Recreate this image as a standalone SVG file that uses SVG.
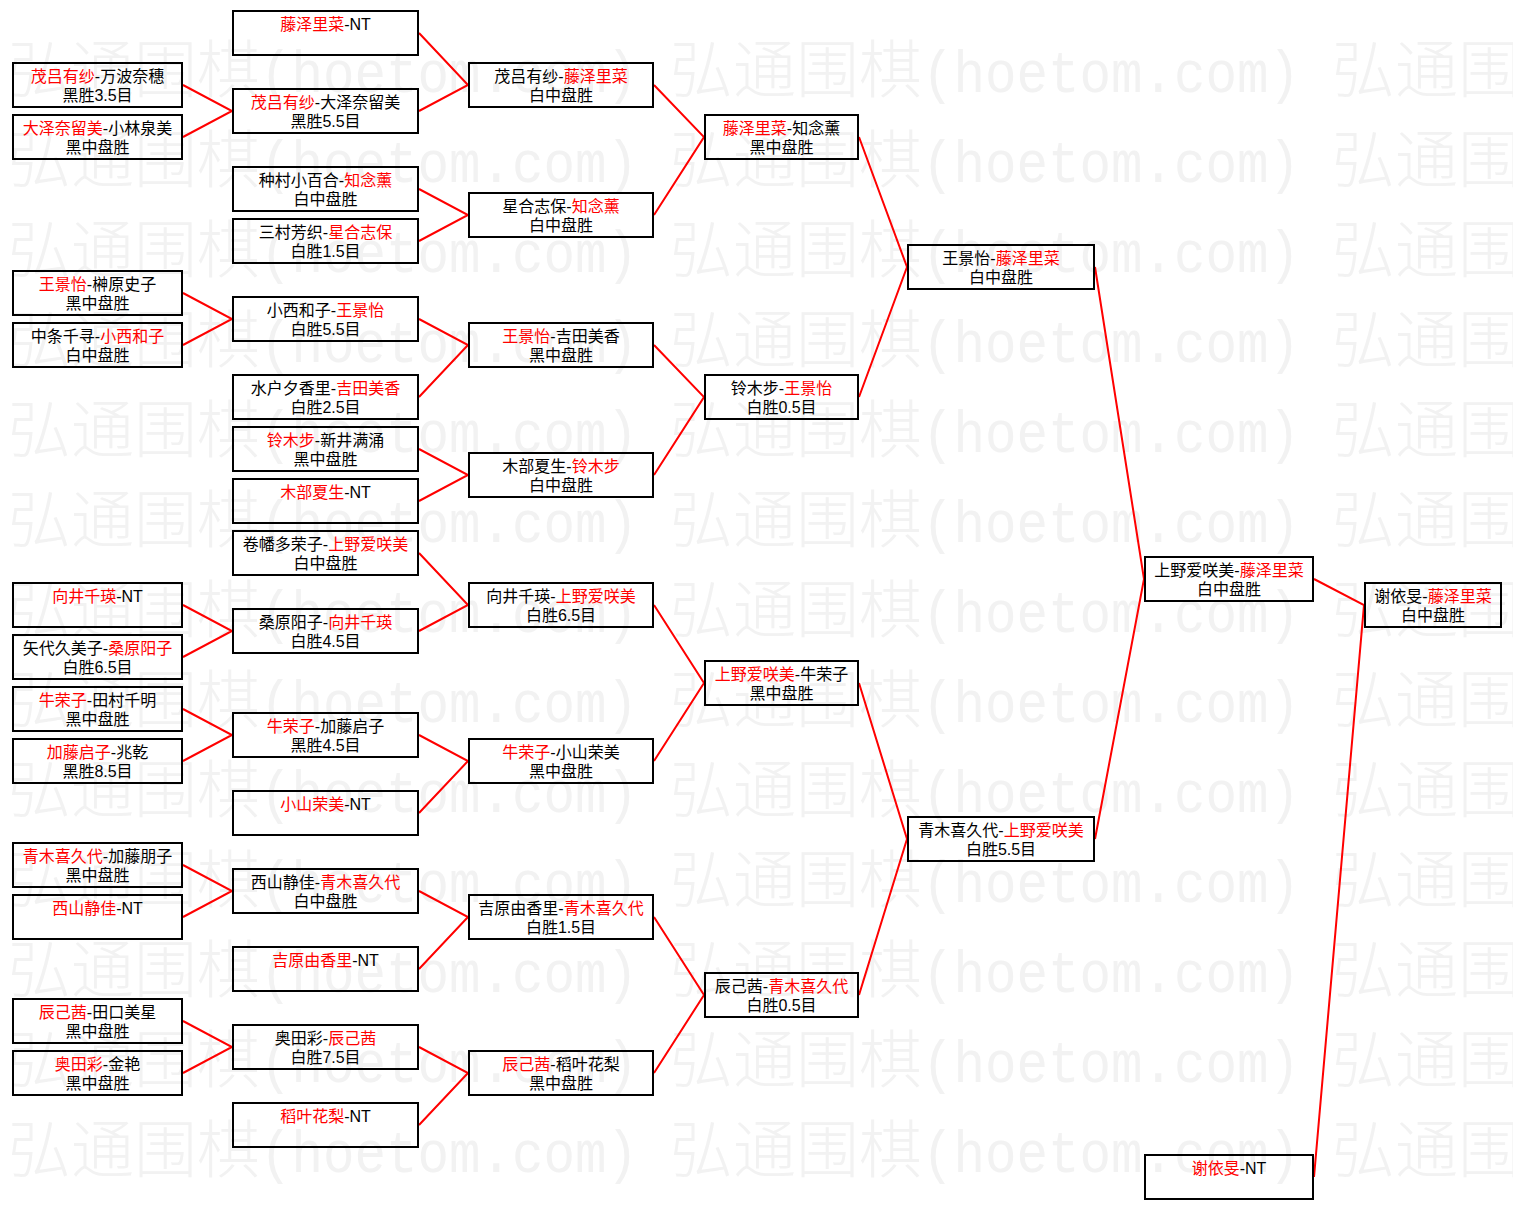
<svg xmlns="http://www.w3.org/2000/svg" width="1513" height="1209" viewBox="0 0 1513 1209">
<style>
.b{fill:none;stroke:#000;stroke-width:2}
.t{font-family:"Liberation Sans","Noto Sans CJK SC",sans-serif;font-size:16px;fill:#000;text-anchor:middle}
.r{fill:#f00}
.ln{fill:none;stroke:#f00;stroke-width:2}
.wc{font-family:"Noto Sans CJK SC",sans-serif;font-size:63px;font-weight:300;fill:#f2f2f2}
.wa{font-family:"Liberation Mono",monospace;font-size:60px;fill:#f2f2f2}
</style>
<defs>
<g id="wm">
<text class="wc" x="0" y="0">弘通围棋</text>
<text class="wa" x="252" y="0" textLength="378" lengthAdjust="spacingAndGlyphs">(hoetom.com)</text>
</g>
</defs>
<rect width="1513" height="1209" fill="#fff"/>
<g id="watermark">
<use href="#wm" x="8" y="92"/><use href="#wm" x="670" y="92"/><use href="#wm" x="1332" y="92"/>
<use href="#wm" x="8" y="182"/><use href="#wm" x="670" y="182"/><use href="#wm" x="1332" y="182"/>
<use href="#wm" x="8" y="272"/><use href="#wm" x="670" y="272"/><use href="#wm" x="1332" y="272"/>
<use href="#wm" x="8" y="362"/><use href="#wm" x="670" y="362"/><use href="#wm" x="1332" y="362"/>
<use href="#wm" x="8" y="452"/><use href="#wm" x="670" y="452"/><use href="#wm" x="1332" y="452"/>
<use href="#wm" x="8" y="542"/><use href="#wm" x="670" y="542"/><use href="#wm" x="1332" y="542"/>
<use href="#wm" x="8" y="632"/><use href="#wm" x="670" y="632"/><use href="#wm" x="1332" y="632"/>
<use href="#wm" x="8" y="722"/><use href="#wm" x="670" y="722"/><use href="#wm" x="1332" y="722"/>
<use href="#wm" x="8" y="812"/><use href="#wm" x="670" y="812"/><use href="#wm" x="1332" y="812"/>
<use href="#wm" x="8" y="902"/><use href="#wm" x="670" y="902"/><use href="#wm" x="1332" y="902"/>
<use href="#wm" x="8" y="992"/><use href="#wm" x="670" y="992"/><use href="#wm" x="1332" y="992"/>
<use href="#wm" x="8" y="1082"/><use href="#wm" x="670" y="1082"/><use href="#wm" x="1332" y="1082"/>
<use href="#wm" x="8" y="1172"/><use href="#wm" x="670" y="1172"/><use href="#wm" x="1332" y="1172"/>
</g>
<g id="connectors">
<path class="ln" d="M183,85 L232,111 L183,137"/>
<path class="ln" d="M183,293 L232,319 L183,345"/>
<path class="ln" d="M183,605 L232,631 L183,657"/>
<path class="ln" d="M183,709 L232,735 L183,761"/>
<path class="ln" d="M183,865 L232,891 L183,917"/>
<path class="ln" d="M183,1021 L232,1047 L183,1073"/>
<path class="ln" d="M419,33 L468,85 L419,111"/>
<path class="ln" d="M419,189 L468,215 L419,241"/>
<path class="ln" d="M419,319 L468,345 L419,397"/>
<path class="ln" d="M419,449 L468,475 L419,501"/>
<path class="ln" d="M419,553 L468,605 L419,631"/>
<path class="ln" d="M419,735 L468,761 L419,813"/>
<path class="ln" d="M419,891 L468,917 L419,969"/>
<path class="ln" d="M419,1047 L468,1073 L419,1125"/>
<path class="ln" d="M654,85 L704,137 L654,215"/>
<path class="ln" d="M654,345 L704,397 L654,475"/>
<path class="ln" d="M654,605 L704,683 L654,761"/>
<path class="ln" d="M654,917 L704,995 L654,1073"/>
<path class="ln" d="M859,137 L907,267 L859,397"/>
<path class="ln" d="M859,683 L907,839 L859,995"/>
<path class="ln" d="M1095,267 L1144,579 L1095,839"/>
<path class="ln" d="M1314,579 L1364,605 L1314,1177"/>
</g>
<!-- column 1 -->
<g id="r1-1"><rect class="b" x="13" y="63" width="169" height="44"/><text class="t"><tspan x="97.5" y="82"><tspan class="r">茂吕有纱</tspan>-万波奈穗</tspan><tspan x="97.5" y="101">黑胜3.5目</tspan></text></g>
<g id="r1-2"><rect class="b" x="13" y="115" width="169" height="44"/><text class="t"><tspan x="97.5" y="134"><tspan class="r">大泽奈留美</tspan>-小林泉美</tspan><tspan x="97.5" y="153">黑中盘胜</tspan></text></g>
<g id="r1-3"><rect class="b" x="13" y="271" width="169" height="44"/><text class="t"><tspan x="97.5" y="290"><tspan class="r">王景怡</tspan>-榊原史子</tspan><tspan x="97.5" y="309">黑中盘胜</tspan></text></g>
<g id="r1-4"><rect class="b" x="13" y="323" width="169" height="44"/><text class="t"><tspan x="97.5" y="342">中条千寻-<tspan class="r">小西和子</tspan></tspan><tspan x="97.5" y="361">白中盘胜</tspan></text></g>
<g id="r1-5"><rect class="b" x="13" y="583" width="169" height="44"/><text class="t" x="97.5" y="602"><tspan class="r">向井千瑛</tspan>-NT</text></g>
<g id="r1-6"><rect class="b" x="13" y="635" width="169" height="44"/><text class="t"><tspan x="97.5" y="654">矢代久美子-<tspan class="r">桑原阳子</tspan></tspan><tspan x="97.5" y="673">白胜6.5目</tspan></text></g>
<g id="r1-7"><rect class="b" x="13" y="687" width="169" height="44"/><text class="t"><tspan x="97.5" y="706"><tspan class="r">牛荣子</tspan>-田村千明</tspan><tspan x="97.5" y="725">黑中盘胜</tspan></text></g>
<g id="r1-8"><rect class="b" x="13" y="739" width="169" height="44"/><text class="t"><tspan x="97.5" y="758"><tspan class="r">加藤启子</tspan>-兆乾</tspan><tspan x="97.5" y="777">黑胜8.5目</tspan></text></g>
<g id="r1-9"><rect class="b" x="13" y="843" width="169" height="44"/><text class="t"><tspan x="97.5" y="862"><tspan class="r">青木喜久代</tspan>-加藤朋子</tspan><tspan x="97.5" y="881">黑中盘胜</tspan></text></g>
<g id="r1-10"><rect class="b" x="13" y="895" width="169" height="44"/><text class="t" x="97.5" y="914"><tspan class="r">西山静佳</tspan>-NT</text></g>
<g id="r1-11"><rect class="b" x="13" y="999" width="169" height="44"/><text class="t"><tspan x="97.5" y="1018"><tspan class="r">辰己茜</tspan>-田口美星</tspan><tspan x="97.5" y="1037">黑中盘胜</tspan></text></g>
<g id="r1-12"><rect class="b" x="13" y="1051" width="169" height="44"/><text class="t"><tspan x="97.5" y="1070"><tspan class="r">奥田彩</tspan>-金艳</tspan><tspan x="97.5" y="1089">黑中盘胜</tspan></text></g>
<!-- column 2 -->
<g id="r2-1"><rect class="b" x="233" y="11" width="185" height="44"/><text class="t" x="325.5" y="30"><tspan class="r">藤泽里菜</tspan>-NT</text></g>
<g id="r2-2"><rect class="b" x="233" y="89" width="185" height="44"/><text class="t"><tspan x="325.5" y="108"><tspan class="r">茂吕有纱</tspan>-大泽奈留美</tspan><tspan x="325.5" y="127">黑胜5.5目</tspan></text></g>
<g id="r2-3"><rect class="b" x="233" y="167" width="185" height="44"/><text class="t"><tspan x="325.5" y="186">种村小百合-<tspan class="r">知念薰</tspan></tspan><tspan x="325.5" y="205">白中盘胜</tspan></text></g>
<g id="r2-4"><rect class="b" x="233" y="219" width="185" height="44"/><text class="t"><tspan x="325.5" y="238">三村芳织-<tspan class="r">星合志保</tspan></tspan><tspan x="325.5" y="257">白胜1.5目</tspan></text></g>
<g id="r2-5"><rect class="b" x="233" y="297" width="185" height="44"/><text class="t"><tspan x="325.5" y="316">小西和子-<tspan class="r">王景怡</tspan></tspan><tspan x="325.5" y="335">白胜5.5目</tspan></text></g>
<g id="r2-6"><rect class="b" x="233" y="375" width="185" height="44"/><text class="t"><tspan x="325.5" y="394">水户夕香里-<tspan class="r">吉田美香</tspan></tspan><tspan x="325.5" y="413">白胜2.5目</tspan></text></g>
<g id="r2-7"><rect class="b" x="233" y="427" width="185" height="44"/><text class="t"><tspan x="325.5" y="446"><tspan class="r">铃木步</tspan>-新井满涌</tspan><tspan x="325.5" y="465">黑中盘胜</tspan></text></g>
<g id="r2-8"><rect class="b" x="233" y="479" width="185" height="44"/><text class="t" x="325.5" y="498"><tspan class="r">木部夏生</tspan>-NT</text></g>
<g id="r2-9"><rect class="b" x="233" y="531" width="185" height="44"/><text class="t"><tspan x="325.5" y="550">卷幡多荣子-<tspan class="r">上野爱咲美</tspan></tspan><tspan x="325.5" y="569">白中盘胜</tspan></text></g>
<g id="r2-10"><rect class="b" x="233" y="609" width="185" height="44"/><text class="t"><tspan x="325.5" y="628">桑原阳子-<tspan class="r">向井千瑛</tspan></tspan><tspan x="325.5" y="647">白胜4.5目</tspan></text></g>
<g id="r2-11"><rect class="b" x="233" y="713" width="185" height="44"/><text class="t"><tspan x="325.5" y="732"><tspan class="r">牛荣子</tspan>-加藤启子</tspan><tspan x="325.5" y="751">黑胜4.5目</tspan></text></g>
<g id="r2-12"><rect class="b" x="233" y="791" width="185" height="44"/><text class="t" x="325.5" y="810"><tspan class="r">小山荣美</tspan>-NT</text></g>
<g id="r2-13"><rect class="b" x="233" y="869" width="185" height="44"/><text class="t"><tspan x="325.5" y="888">西山静佳-<tspan class="r">青木喜久代</tspan></tspan><tspan x="325.5" y="907">白中盘胜</tspan></text></g>
<g id="r2-14"><rect class="b" x="233" y="947" width="185" height="44"/><text class="t" x="325.5" y="966"><tspan class="r">吉原由香里</tspan>-NT</text></g>
<g id="r2-15"><rect class="b" x="233" y="1025" width="185" height="44"/><text class="t"><tspan x="325.5" y="1044">奥田彩-<tspan class="r">辰己茜</tspan></tspan><tspan x="325.5" y="1063">白胜7.5目</tspan></text></g>
<g id="r2-16"><rect class="b" x="233" y="1103" width="185" height="44"/><text class="t" x="325.5" y="1122"><tspan class="r">稻叶花梨</tspan>-NT</text></g>
<!-- column 3 -->
<g id="r3-1"><rect class="b" x="469" y="63" width="184" height="44"/><text class="t"><tspan x="561" y="82">茂吕有纱-<tspan class="r">藤泽里菜</tspan></tspan><tspan x="561" y="101">白中盘胜</tspan></text></g>
<g id="r3-2"><rect class="b" x="469" y="193" width="184" height="44"/><text class="t"><tspan x="561" y="212">星合志保-<tspan class="r">知念薰</tspan></tspan><tspan x="561" y="231">白中盘胜</tspan></text></g>
<g id="r3-3"><rect class="b" x="469" y="323" width="184" height="44"/><text class="t"><tspan x="561" y="342"><tspan class="r">王景怡</tspan>-吉田美香</tspan><tspan x="561" y="361">黑中盘胜</tspan></text></g>
<g id="r3-4"><rect class="b" x="469" y="453" width="184" height="44"/><text class="t"><tspan x="561" y="472">木部夏生-<tspan class="r">铃木步</tspan></tspan><tspan x="561" y="491">白中盘胜</tspan></text></g>
<g id="r3-5"><rect class="b" x="469" y="583" width="184" height="44"/><text class="t"><tspan x="561" y="602">向井千瑛-<tspan class="r">上野爱咲美</tspan></tspan><tspan x="561" y="621">白胜6.5目</tspan></text></g>
<g id="r3-6"><rect class="b" x="469" y="739" width="184" height="44"/><text class="t"><tspan x="561" y="758"><tspan class="r">牛荣子</tspan>-小山荣美</tspan><tspan x="561" y="777">黑中盘胜</tspan></text></g>
<g id="r3-7"><rect class="b" x="469" y="895" width="184" height="44"/><text class="t"><tspan x="561" y="914">吉原由香里-<tspan class="r">青木喜久代</tspan></tspan><tspan x="561" y="933">白胜1.5目</tspan></text></g>
<g id="r3-8"><rect class="b" x="469" y="1051" width="184" height="44"/><text class="t"><tspan x="561" y="1070"><tspan class="r">辰己茜</tspan>-稻叶花梨</tspan><tspan x="561" y="1089">黑中盘胜</tspan></text></g>
<!-- column 4 -->
<g id="r4-1"><rect class="b" x="705" y="115" width="153" height="44"/><text class="t"><tspan x="781.5" y="134"><tspan class="r">藤泽里菜</tspan>-知念薰</tspan><tspan x="781.5" y="153">黑中盘胜</tspan></text></g>
<g id="r4-2"><rect class="b" x="705" y="375" width="153" height="44"/><text class="t"><tspan x="781.5" y="394">铃木步-<tspan class="r">王景怡</tspan></tspan><tspan x="781.5" y="413">白胜0.5目</tspan></text></g>
<g id="r4-3"><rect class="b" x="705" y="661" width="153" height="44"/><text class="t"><tspan x="781.5" y="680"><tspan class="r">上野爱咲美</tspan>-牛荣子</tspan><tspan x="781.5" y="699">黑中盘胜</tspan></text></g>
<g id="r4-4"><rect class="b" x="705" y="973" width="153" height="44"/><text class="t"><tspan x="781.5" y="992">辰己茜-<tspan class="r">青木喜久代</tspan></tspan><tspan x="781.5" y="1011">白胜0.5目</tspan></text></g>
<!-- column 5 -->
<g id="r5-1"><rect class="b" x="908" y="245" width="186" height="44"/><text class="t"><tspan x="1001" y="264">王景怡-<tspan class="r">藤泽里菜</tspan></tspan><tspan x="1001" y="283">白中盘胜</tspan></text></g>
<g id="r5-2"><rect class="b" x="908" y="817" width="186" height="44"/><text class="t"><tspan x="1001" y="836">青木喜久代-<tspan class="r">上野爱咲美</tspan></tspan><tspan x="1001" y="855">白胜5.5目</tspan></text></g>
<!-- column 6 -->
<g id="r6-1"><rect class="b" x="1145" y="557" width="168" height="44"/><text class="t"><tspan x="1229" y="576">上野爱咲美-<tspan class="r">藤泽里菜</tspan></tspan><tspan x="1229" y="595">白中盘胜</tspan></text></g>
<g id="r6-2"><rect class="b" x="1145" y="1155" width="168" height="44"/><text class="t" x="1229" y="1174"><tspan class="r">谢依旻</tspan>-NT</text></g>
<!-- final -->
<g id="final"><rect class="b" x="1365" y="583" width="136" height="44"/><text class="t"><tspan x="1433" y="602">谢依旻-<tspan class="r">藤泽里菜</tspan></tspan><tspan x="1433" y="621">白中盘胜</tspan></text></g>
</svg>
